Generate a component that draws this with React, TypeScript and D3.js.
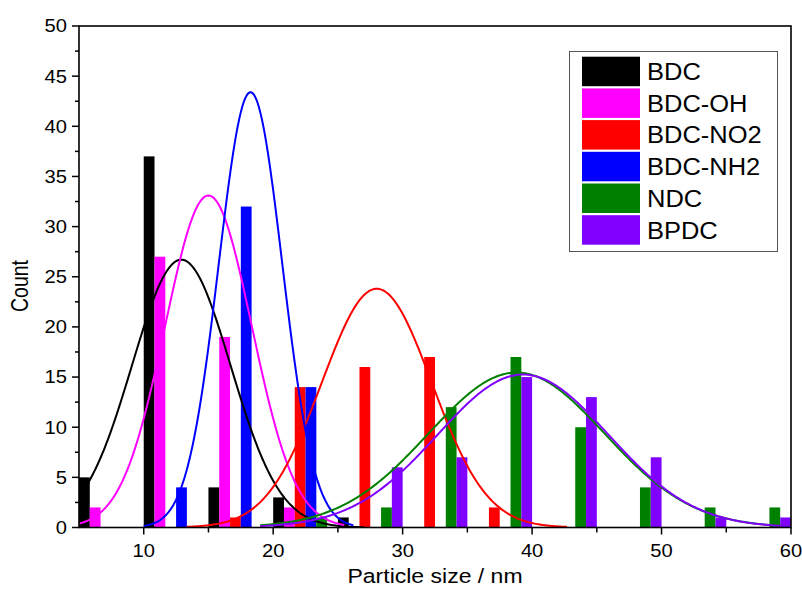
import React from "react";
import * as d3 from "d3";

const seriesNames = ["BDC", "BDC-OH", "BDC-NO2", "BDC-NH2", "NDC", "BPDC"];
const seriesColors = ["#000000", "#ff00ff", "#ff0000", "#0000ff", "#008000", "#8000ff"];

// bin starts (nm) and counts per series
const binsBDC = [5, 10, 15, 20, 25];
const countsBDC = [5, 37, 4, 3, 1];
const binsOH = [5, 10, 15, 20];
const countsOH = [2, 27, 19, 2];
const binsNO2 = [15, 20, 25, 30, 35];
const countsNO2 = [1, 14, 16, 17, 2];
const binsNH2 = [10, 15, 20];
const countsNH2 = [4, 32, 14];
const binsNDC = [20, 25, 30, 35, 40, 45, 50, 55];
const countsNDC = [1, 2, 12, 17, 10, 4, 2, 2];
const binsBPDC = [20, 25, 30, 35, 40, 45, 50, 55];
const countsBPDC = [0, 6, 7, 15, 13, 7, 1, 1];

// Gaussian fit parameters: amplitude, centre, sigma, x-range
const fitAmp = [26.7, 33.1, 23.8, 43.4, 15.45, 15.25];
const fitCenter = [12.9, 15.0, 28.0, 18.25, 38.8, 39.3];
const fitSigma = [3.8, 3.35, 4.25, 2.45, 6.8, 6.6];
const fitFrom = [5, 5, 13.3, 10, 19, 19];
const fitTo = [27, 25.5, 42.7, 26.2, 60, 60];

const xTicks = [10, 20, 30, 40, 50, 60];
const xMinor = [15, 25, 35, 45, 55];
const yTicks = [0, 5, 10, 15, 20, 25, 30, 35, 40, 45, 50];
const yMinor = [2.5, 7.5, 12.5, 17.5, 22.5, 27.5, 32.5, 37.5, 42.5, 47.5];

const binWidth = 5;
const W = 802, H = 596;
const L = 79, R = 791, T = 26, B = 527.5;
const FONT = "'Liberation Sans', Arial, sans-serif";

export default function App() {
  const x = d3.scaleLinear().domain([5, 60]).range([L, R]);
  const y = d3.scaleLinear().domain([0, 50]).range([B, T]);
  const sub = d3.scaleBand<string>().domain(seriesNames).range([0, binWidth]).padding(0);

  const binsAll = [binsBDC, binsOH, binsNO2, binsNH2, binsNDC, binsBPDC];
  const countsAll = [countsBDC, countsOH, countsNO2, countsNH2, countsNDC, countsBPDC];

  const line = d3
    .line<[number, number]>()
    .x((d) => x(d[0]))
    .y((d) => y(d[1]))
    .curve(d3.curveLinear);

  const curves = seriesNames.map((_, i) => {
    const xs = d3.range(fitFrom[i], fitTo[i] + 1e-9, 0.1);
    const pts: [number, number][] = xs.map((v) => [
      v,
      fitAmp[i] * Math.exp(-((v - fitCenter[i]) ** 2) / (2 * fitSigma[i] ** 2)),
    ]);
    return line(pts) || "";
  });

  const tickSX = 1.12;
  const titleSX = 1.18;

  return (
    <svg
      width={W}
      height={H}
      style={{ position: "fixed", left: 0, top: 0, background: "#fff" }}
      fontFamily={FONT}
    >
      <defs>
        <clipPath id="plot">
          <rect x={L} y={T} width={R - L} height={B - T} />
        </clipPath>
      </defs>
      <rect x={0} y={0} width={W} height={H} fill="#fff" />

      {/* bars */}
      <g clipPath="url(#plot)">
        {seriesNames.map((name, i) =>
          binsAll[i].map((b, j) => {
            const x0 = x(b + (sub(name) as number));
            const x1 = x(b + (sub(name) as number) + sub.bandwidth());
            const v = countsAll[i][j];
            if (v <= 0) return null;
            return (
              <rect
                key={name + j}
                x={x0}
                y={y(v)}
                width={x1 - x0}
                height={y(0) - y(v)}
                fill={seriesColors[i]}
              />
            );
          })
        )}
        {/* fit curves */}
        {curves.map((d, i) => (
          <path key={i} d={d} fill="none" stroke={seriesColors[i]} strokeWidth={2} />
        ))}
      </g>

      {/* frame */}
      <rect x={L} y={T} width={R - L} height={B - T} fill="none" stroke="#000" strokeWidth={1.6} />

      {/* x axis ticks */}
      {xTicks.map((t) => (
        <g key={"xt" + t}>
          <line x1={x(t)} x2={x(t)} y1={B} y2={B + 7} stroke="#000" strokeWidth={1.5} />
          <text
            transform={`translate(${x(t)},${557}) scale(${tickSX},1)`}
            textAnchor="middle"
            fontSize={18}
            fill="#000"
          >
            {t}
          </text>
        </g>
      ))}
      {xMinor.map((t) => (
        <line key={"xm" + t} x1={x(t)} x2={x(t)} y1={B} y2={B + 5} stroke="#000" strokeWidth={1.5} />
      ))}

      {/* y axis ticks */}
      {yTicks.map((t) => (
        <g key={"yt" + t}>
          <line x1={L - 7} x2={L} y1={y(t)} y2={y(t)} stroke="#000" strokeWidth={1.5} />
          <text
            transform={`translate(${67},${y(t) + 6.4}) scale(${tickSX},1)`}
            textAnchor="end"
            fontSize={18}
            fill="#000"
          >
            {t}
          </text>
        </g>
      ))}
      {yMinor.map((t) => (
        <line key={"ym" + t} x1={L - 4} x2={L} y1={y(t)} y2={y(t)} stroke="#000" strokeWidth={1.5} />
      ))}

      {/* axis titles */}
      <text
        transform={`translate(${(L + R) / 2},${583}) scale(${titleSX},1)`}
        textAnchor="middle"
        fontSize={19.5}
        fill="#000"
      >
        Particle size / nm
      </text>
      <text
        transform={`translate(${28},${286}) scale(${titleSX},1) rotate(-90)`}
        textAnchor="middle"
        fontSize={19.5}
        fill="#000"
      >
        Count
      </text>

      {/* legend */}
      <rect x={569.5} y={51.5} width={208} height={200} fill="#fff" stroke="#555" strokeWidth={1} />
      {seriesNames.map((name, i) => (
        <g key={"lg" + i}>
          <rect x={582} y={56.7 + 31.7 * i} width={58} height={29.5} fill={seriesColors[i]} />
          <text
            transform={`translate(${647},${80 + 31.7 * i}) scale(1.04,1)`}
            fontSize={24.5}
            fill="#000"
          >
            {name}
          </text>
        </g>
      ))}
    </svg>
  );
}
